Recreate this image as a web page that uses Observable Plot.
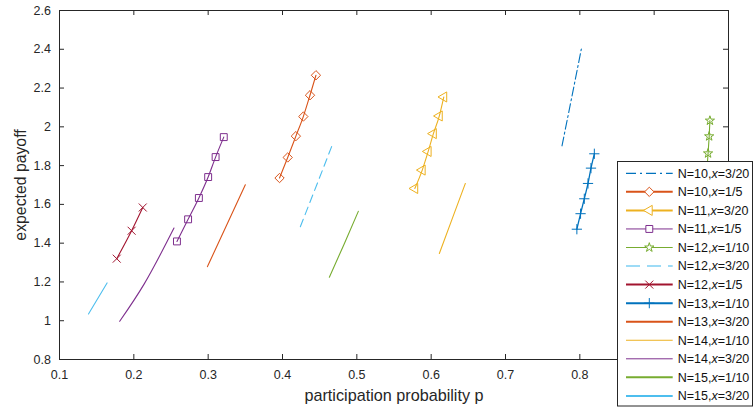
<!DOCTYPE html>
<html><head><meta charset="utf-8">
<script src="https://cdn.jsdelivr.net/npm/d3@7"></script>
<script src="https://cdn.jsdelivr.net/npm/@observablehq/plot@0.6"></script>
<style>
html,body{margin:0;padding:0;background:#fff;}
#chart{position:relative;width:753px;height:408px;}
svg{font-family:"Liberation Sans",Arial,Helvetica,sans-serif;}
</style></head><body><div id="chart"></div>
<script>
// ---- data ----
const seriesNames = ["N=10,x=3/20","N=10,x=1/5","N=11,x=3/20","N=11,x=1/5","N=12,x=1/10","N=12,x=3/20","N=12,x=1/5","N=13,x=1/10","N=13,x=3/20","N=14,x=1/10","N=14,x=3/20","N=15,x=1/10","N=15,x=3/20"];

const p_N10_x3_20 = [0.776, 0.789, 0.802];
const y_N10_x3_20 = [1.902, 2.15, 2.401];
const p_N10_x1_5  = [0.396, 0.407, 0.418, 0.428, 0.437, 0.445];
const y_N10_x1_5  = [1.736, 1.842, 1.952, 2.053, 2.163, 2.266];
const p_N11_x3_20 = [0.578, 0.588, 0.596, 0.603, 0.611, 0.617];
const y_N11_x3_20 = [1.682, 1.777, 1.873, 1.965, 2.056, 2.154];
const p_N11_x1_5  = [0.258, 0.273, 0.2875, 0.300, 0.310, 0.321];
const y_N11_x1_5  = [1.409, 1.523, 1.633, 1.741, 1.844, 1.947];
const p_N12_x1_10 = [0.975, 0.974, 0.9725, 0.971, 0.969, 0.967];
const y_N12_x1_10 = [2.032, 1.951, 1.863, 1.78, 1.695, 1.61];
const p_N12_x3_20 = [0.424, 0.446, 0.468];
const y_N12_x3_20 = [1.485, 1.70, 1.917];
const p_N12_x1_5  = [0.177, 0.197, 0.212];
const y_N12_x1_5  = [1.32, 1.464, 1.584];
const p_N13_x1_10 = [0.796, 0.801, 0.806, 0.811, 0.815, 0.8195];
const y_N13_x1_10 = [1.472, 1.552, 1.629, 1.708, 1.787, 1.861];
const p_N13_x3_20 = [0.299, 0.324, 0.350];
const y_N13_x3_20 = [1.279, 1.486, 1.701];
const p_N14_x1_10 = [0.611, 0.629, 0.646];
const y_N14_x1_10 = [1.347, 1.533, 1.708];
const p_N14_x3_20 = [0.181, 0.214, 0.254];
const y_N14_x3_20 = [0.997, 1.19, 1.478];
const p_N15_x1_10 = [0.463, 0.483, 0.502];
const y_N15_x1_10 = [1.224, 1.396, 1.564];
const p_N15_x3_20 = [0.139, 0.164];
const y_N15_x3_20 = [1.035, 1.195];

const xTickValues = [0.1,0.2,0.3,0.4,0.5,0.6,0.7,0.8,0.9,1.0];
const xTickLabelValues = [0.1,0.2,0.3,0.4,0.5,0.6,0.7,0.8,0.9];
const yTickValues = [0.8,1.0,1.2,1.4,1.6,1.8,2.0,2.2,2.4,2.6];

// ---- styles ----
const C = {blue:"#0072BD", orange:"#D95319", yellow:"#EDB120", purple:"#7E2F8E", green:"#77AC30", cyan:"#4DBEEE", red:"#A2142F"};
const styles = [
  {p:p_N10_x3_20, y:y_N10_x3_20, color:C.blue,   dash:"9,3,2,3", lw:1.1,  lgw:1.2, lgDash:"10,4,2,4"},
  {p:p_N10_x1_5,  y:y_N10_x1_5,  color:C.orange, symbol:"diamond2", r:4.2, lw:1.1, lgw:2},
  {p:p_N11_x3_20, y:y_N11_x3_20, color:C.yellow, symbol:"triangle2", r:4.8, rotate:-90, lw:1.1, lgw:2},
  {p:p_N11_x1_5,  y:y_N11_x1_5,  color:C.purple, symbol:"square", r:3.9, lw:1.1, lgw:1},
  {p:p_N12_x1_10, y:y_N12_x1_10, color:C.green,  symbol:"star", r:2.9, lw:1.1, lgw:1},
  {p:p_N12_x3_20, y:y_N12_x3_20, color:C.cyan,   dash:"8,5", lw:1.1, lgw:2, lgDash:"14,7", lgOpacity:0.55},
  {p:p_N12_x1_5,  y:y_N12_x1_5,  color:C.red,    symbol:"times", r:3.7, lw:1.1, lgw:2},
  {p:p_N13_x1_10, y:y_N13_x1_10, color:C.blue,   symbol:"plus", r:3.4, lw:1.3, lgw:2},
  {p:p_N13_x3_20, y:y_N13_x3_20, color:C.orange, lw:1.1, lgw:2},
  {p:p_N14_x1_10, y:y_N14_x1_10, color:C.yellow, lw:1.1, lgw:1},
  {p:p_N14_x3_20, y:y_N14_x3_20, color:C.purple, lw:1.1, lgw:1},
  {p:p_N15_x1_10, y:y_N15_x1_10, color:C.green,  lw:1.1, lgw:2},
  {p:p_N15_x3_20, y:y_N15_x3_20, color:C.cyan,   lw:1.1, lgw:2}
];

const rows = [];
seriesNames.forEach((name, i) => {
  styles[i].p.forEach((pv, j) => rows.push({series:name, p:pv, payoff:styles[i].y[j]}));
});

const W = 753, H = 408;
const mL = 59, mR = 25, mT = 10, mB = 49;
const fw = W - mL - mR, fh = H - mT - mB;
const axisColor = "#262626";

const marks = [];
seriesNames.forEach((name, i) => {
  const s = styles[i];
  const data = rows.filter(d => d.series === name);
  marks.push(Plot.line(data, {x:"p", y:"payoff", stroke:s.color, strokeWidth:s.lw, strokeDasharray:s.dash, curve:"monotone-x"}));
  if (s.symbol) {
    marks.push(Plot.dot(data, {x:"p", y:"payoff", symbol:s.symbol, r:s.r, stroke:s.color, fill:"none", strokeWidth:1, rotate:s.rotate || 0}));
  }
});

const fmt = d3.format("~g");
const chart = Plot.plot({
  width: W, height: H,
  marginLeft: mL, marginRight: mR, marginTop: mT, marginBottom: mB,
  style: {fontFamily: '"Liberation Sans",Arial,sans-serif', fontSize: "12.5px", color: axisColor, background: "#fff"},
  x: {domain: [0.1, 1.0], axis: null},
  y: {domain: [0.8, 2.6], axis: null},
  marks: [
    ...marks,
    // inward tick marks on all four sides
    Plot.tickX(xTickValues, {x: d => d, insetTop: fh - 5, stroke: axisColor}),
    Plot.tickX(xTickValues, {x: d => d, insetBottom: fh - 5, stroke: axisColor}),
    Plot.tickY(yTickValues, {y: d => d, insetRight: fw - 5, stroke: axisColor}),
    Plot.tickY(yTickValues, {y: d => d, insetLeft: fw - 5, stroke: axisColor}),
    Plot.axisX({ticks: xTickLabelValues, tickSize: 0, tickPadding: 10.5, tickFormat: fmt, label: null, fill: axisColor}),
    Plot.axisY({ticks: yTickValues, tickSize: 0, tickPadding: 8.5, tickFormat: fmt, label: null, fill: axisColor}),
    Plot.frame({stroke: axisColor, strokeWidth: 1}),
    Plot.text(["participation probability p"], {frameAnchor: "bottom", lineAnchor: "middle", textAnchor: "middle", dy: 36, fontSize: 16.2, fill: axisColor}),
    Plot.text(["expected payoff"], {frameAnchor: "left", lineAnchor: "middle", textAnchor: "middle", dx: -39, rotate: -90, fontSize: 15.8, fill: axisColor})
  ]
});
document.getElementById("chart").appendChild(chart);

// ---- legend (inside the plot SVG, on top) ----
const svg = d3.select(chart);
const lg = svg.append("g").attr("class", "legend").attr("text-anchor", "start").style("text-anchor", "start");
const lx0 = 617.5, ly0 = 161.5, lx1 = 752.5, ly1 = 406;
lg.append("rect").attr("x", lx0).attr("y", ly0).attr("width", lx1 - lx0).attr("height", ly1 - ly0)
  .attr("fill", "#fff").attr("stroke", axisColor).attr("stroke-width", 1);
const symMap = {diamond2: d3.symbolDiamond2, triangle2: d3.symbolTriangle2, square: d3.symbolSquare, star: d3.symbolStar, times: d3.symbolTimes, plus: d3.symbolPlus};
seriesNames.forEach((name, i) => {
  const s = styles[i];
  const yy = 173.3 + i * 18.55;
  const g = lg.append("g");
  g.append("line").attr("x1", 626).attr("x2", 672.7).attr("y1", yy).attr("y2", yy)
    .attr("stroke", s.color).attr("stroke-width", s.lgw)
    .attr("stroke-dasharray", s.lgDash || null)
    .attr("stroke-opacity", s.lgOpacity || 1);
  if (s.symbol) {
    g.append("path").attr("d", d3.symbol(symMap[s.symbol], Math.PI * s.r * s.r)())
      .attr("transform", `translate(649.3,${yy}) rotate(${s.rotate || 0})`)
      .attr("fill", "#fff").attr("stroke", s.color).attr("stroke-width", 1);
  }
  const parts = name.split("x");
  const t = g.append("text").attr("x", 677.7).attr("y", yy).attr("dy", "0.35em")
    .attr("text-anchor", "start").style("text-anchor", "start")
    .attr("font-size", 12.5).attr("fill", "#111");
  t.append("tspan").text(parts[0]);
  t.append("tspan").attr("font-style", "italic").text("x");
  t.append("tspan").text(parts[1]);
});
</script></body></html>
